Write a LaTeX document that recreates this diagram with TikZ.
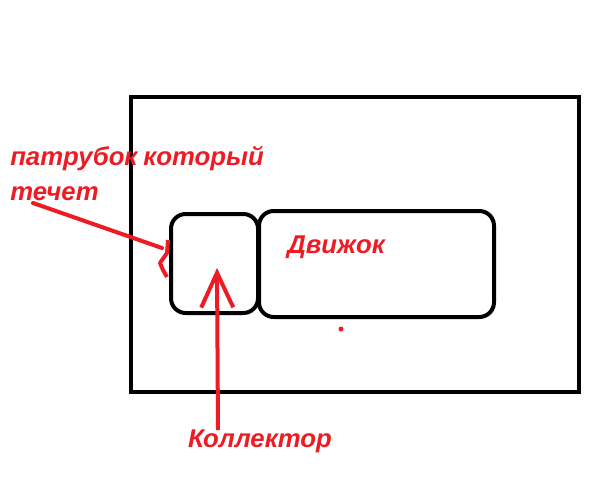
\documentclass[tikz,border=0pt]{standalone}
\usepackage{fontspec}
\setmainfont{Liberation Sans}
\usetikzlibrary{arrows.meta,positioning,calc}
\definecolor{paintred}{HTML}{ED1C24}
\tikzset{
  box/.style={draw=black,line width=3pt,rounded corners=11pt},
  redlabel/.style={text=paintred,font=\fontsize{19.3}{26.5}\selectfont\bfseries\itshape,inner sep=0pt},
  redline/.style={draw=paintred,line width=3pt}
}
\begin{document}
\begin{tikzpicture}[x=0.75pt,y=-0.75pt]
  \useasboundingbox (0,0) rectangle (599,499);
  % housing and parts
  \draw[line width=3pt] (131,97) rectangle (579,392);
  \draw[box] (171,214) rectangle (258,313);
  \draw[box] (259,211) rectangle (494,317);
  \fill[paintred] (341,329) circle (2.5);
  % labels
  \node[redlabel,anchor=north west,align=left] (leak) at (10,146) {патрубок\hspace{-1pt} который\\течет};
  \node[redlabel,anchor=west] (engine) at (287,247) {Движок};
  \node[redlabel] (collector) at (260,441) {Коллектор};
  % leaking pipe
  \coordinate (tail) at (33,203);
  \coordinate (tip) at (162,248);
  \draw[redline,line cap=round] (tail) -- (tip);
  \draw[redline,line join=round] (168,240) -- (167,253) -- (160,263) -- (163,270) -- (167,277);
  % collector arrow
  \coordinate (cstart) at (218,430);
  \coordinate (capex) at (217,268);
  \draw[redline,-{Straight Barb[length=26pt,width=24pt,line width=3pt]}] (cstart) -- (capex);
\end{tikzpicture}
\end{document}
